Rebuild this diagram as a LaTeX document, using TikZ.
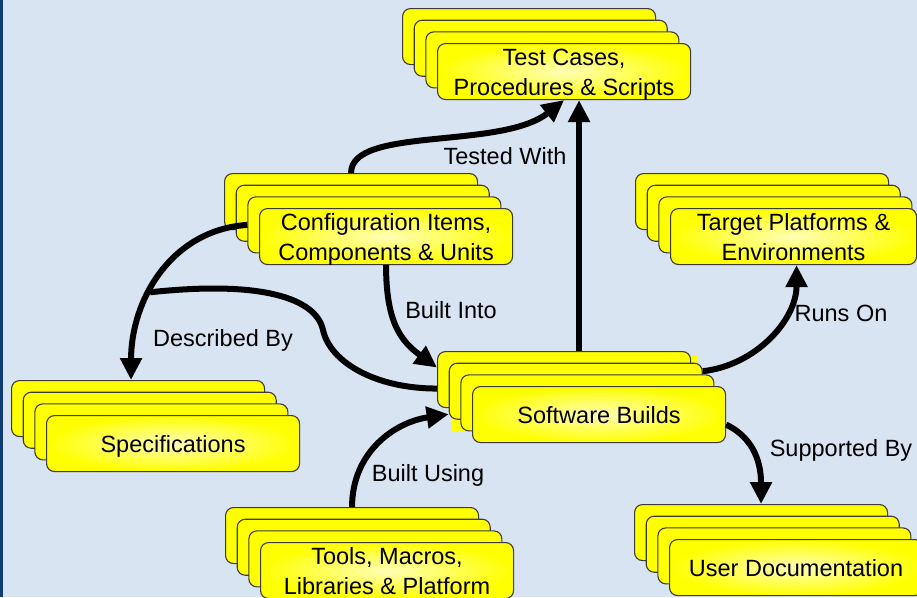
\documentclass[tikz,border=0pt]{standalone}
\usepackage{fontspec}
\setmainfont{Liberation Sans}
\usetikzlibrary{arrows.meta,calc}
\definecolor{bg}{RGB}{217,228,242}
\definecolor{strip}{RGB}{16,60,115}
\definecolor{boxy}{RGB}{255,255,0}
\definecolor{boxline}{RGB}{60,60,60}
\tikzset{
  backbox/.style={draw=boxline, line width=1.1pt, fill=boxy, rounded corners=8pt,
    minimum width=253pt, minimum height=56pt, inner sep=0pt, anchor=north west},
  frontbox/.style={backbox, shade, shading=radial, inner color=yellow!28!white, outer color=boxy},
  boxtext/.style={font=\fontsize{23.5}{30}\selectfont, align=center, inner sep=0pt},
  lbl/.style={font=\fontsize{23.5}{30}\selectfont, inner sep=0pt, anchor=base},
  conn/.style={line width=6pt, -{Triangle[length=22pt,width=21pt]}},
  link/.style={line width=6pt},
}
\newcommand{\stk}[5][253]{%
  \node[backbox] (#2-1) at (#3-35,#4-35) {};
  \node[backbox] (#2-2) at (#3-23.33,#4-23.33) {};
  \node[backbox] (#2-3) at (#3-11.67,#4-11.67) {};
  \node[frontbox, minimum width=#1pt] (#2) at (#3,#4) {};
  \node[boxtext] (#2-t) at ([yshift=-3pt]#2.center) {#5};
}
\begin{document}
\begin{tikzpicture}[x=1pt,y=-1pt]
\useasboundingbox (0,0) rectangle (917,597);
\clip (0,0) rectangle (917,597);
\fill[bg] (0,0) rectangle (917,597);
\fill[strip] (0,0) rectangle (3,597);
% stray backing behind the builds stack
\fill[boxy] (452,355) rectangle (697,432);
% stacks
\stk{test}{437}{43}{\strut Test Cases,\\\strut Procedures \& Scripts}
\stk{cfg}{259}{208}{\strut Configuration Items,\\\strut Components \& Units}
\stk[246]{target}{670}{208}{\strut Target Platforms \&\\\strut Environments}
\stk{build}{472}{386}{\strut Software Builds}
\stk{spec}{46}{415}{\strut Specifications}
\stk{tools}{260}{542}{\strut Tools, Macros,\\\strut Libraries \& Platform}
\stk{doc}{669}{539}{\strut User Documentation}
% connectors
\coordinate (tcend) at ([xshift=15pt]test.south);
\draw[conn] (build-1.north -| tcend) -- (tcend);
\draw[conn] (cfg-1.north) .. controls +(0,-47) and +(-63,50) .. (test.south);
\coordinate (sptip) at ([xshift=-7pt]spec-1.north);
\draw[conn] (cfg-3.west) .. controls +(-76,5) and +(0,-80) .. (sptip) coordinate[pos=0.6] (jn);
\coordinate (bend) at (323,330);
\draw[link] ([yshift=-9pt]build-1.west) .. controls +(-62,0) and +(7,32) .. (bend)
   .. controls +(-7,-32) and +(111,-12) .. (jn);
\coordinate (bitip) at ([yshift=12pt]build-1.west);
\draw[conn] (cfg.south) .. controls +(0,56) and +(-37,-27) .. (bitip);
\draw[conn] ([yshift=20pt]build-2.east) .. controls +(53,-6) and +(0,55) .. ([xshift=3pt]target.south);
\draw[conn] ([yshift=-10pt]build.east) .. controls +(25,12) and +(0,-45) .. (doc-1.north);
\coordinate (butip) at ([yshift=-23pt]build-2.west);
\draw[conn] (tools-1.north) .. controls +(0,-55) and +(-54,8) .. (butip);
% labels
\node[lbl] (l1) at (505,164) {Tested With};
\node[lbl] (l2) at (223,346.5) {Described By};
\node[lbl] (l3) at (451,318.5) {Built Into};
\node[lbl] (l4) at (841,321.5) {Runs On};
\node[lbl] (l5) at (841,456) {Supported By};
\node[lbl] (l6) at (428,481.5) {Built Using};
\end{tikzpicture}
\end{document}
